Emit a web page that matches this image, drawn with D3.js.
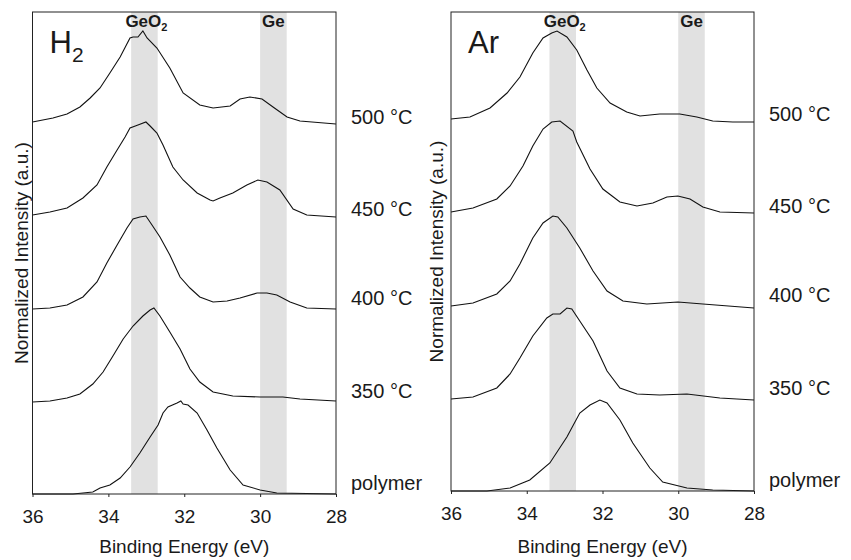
<!DOCTYPE html>
<html><head><meta charset="utf-8">
<script src="https://cdn.jsdelivr.net/npm/d3@7"></script>
<style>
body{margin:0;background:#fff}
text{font-family:"Liberation Sans",Arial,Helvetica,sans-serif;fill:#1a1a1a}
</style>
</head><body>
<svg id="chart" width="851" height="560"></svg>
<script>
// Ge 3d core-level spectra, stacked by anneal temperature
const energyTicks = [36, 34, 32, 30, 28];
const sampleLabels = ["polymer", "350 °C", "400 °C", "450 °C", "500 °C"];
const stackOffsets = [0, 92, 185, 279, 372];
const bandGeO2 = [33.4, 32.7];
const bandGe = [30.0, 29.3];

// [binding energy (eV), intensity above its own baseline (a.u.)]
const h2Polymer = [[36.0,0],[35.5,0],[34.93,0],[34.41,2],[34.22,6],[33.96,9],[33.69,16],[33.43,27],[33.17,41],[32.90,57],[32.69,69],[32.56,81],[32.43,87],[32.19,91],[32.09,93],[32.03,90],[31.90,89],[31.66,81],[31.40,64],[31.14,46],[30.79,24],[30.45,9],[30.00,4],[29.56,1],[28.0,0]];
const h2T350 = [[36.0,0],[35.54,1],[35.09,4],[34.75,8],[34.41,18],[34.14,30],[33.88,46],[33.61,63],[33.35,76],[33.09,86],[32.90,92],[32.80,94],[32.64,86],[32.38,70],[32.11,53],[31.85,33],[31.59,20],[31.24,10],[30.72,6],[30.00,5],[29.40,5],[28.95,3],[28.0,1]];
const h2T400 = [[36.0,0],[35.54,1],[35.09,4],[34.67,12],[34.30,27],[34.04,46],[33.77,64],[33.51,81],[33.35,90],[33.17,92],[33.01,93],[32.85,84],[32.64,72],[32.38,54],[32.11,32],[31.85,21],[31.59,12],[31.24,7],[30.87,8],[30.53,11],[30.08,16],[29.82,16],[29.56,14],[29.21,7],[28.77,1],[28.0,0]];
const h2T450 = [[36.0,0],[35.54,3],[35.09,7],[34.67,17],[34.30,30],[34.04,48],[33.77,65],[33.56,78],[33.43,87],[33.22,90],[33.01,93],[32.90,89],[32.72,82],[32.56,70],[32.30,48],[32.03,35],[31.66,22],[31.32,15],[31.24,14],[31.06,17],[30.72,22],[30.35,30],[30.06,35],[29.82,33],[29.48,25],[29.13,6],[28.77,0],[28.0,-2]];
const h2T500 = [[36.0,0],[35.46,4],[35.09,8],[34.75,15],[34.48,24],[34.22,34],[33.96,49],[33.69,65],[33.43,84],[33.35,85],[33.22,85],[33.09,91],[32.98,84],[32.72,74],[32.38,54],[32.03,29],[31.59,17],[31.24,14],[30.79,16],[30.53,23],[30.27,25],[29.95,23],[29.66,15],[29.29,5],[28.95,1],[28.0,-2]];

const arPolymer = [[36.0,0],[35.05,0],[34.44,3],[33.92,11],[33.39,28],[32.94,54],[32.60,78],[32.33,86],[32.07,91],[31.88,88],[31.54,71],[31.20,48],[30.75,23],[30.41,9],[29.77,3],[29.09,1],[28.0,0]];
const arT350 = [[36.0,0],[35.42,2],[34.79,11],[34.44,25],[34.18,41],[33.84,63],[33.47,81],[33.31,85],[33.12,85],[32.94,91],[32.81,90],[32.60,78],[32.25,58],[31.88,28],[31.54,11],[31.09,5],[30.49,4],[29.77,5],[28.90,1],[28.0,-1]];
const arT400 = [[36.0,0],[35.42,3],[34.79,12],[34.44,25],[34.18,42],[33.84,68],[33.57,83],[33.31,90],[33.18,89],[32.94,78],[32.60,58],[32.25,35],[31.88,15],[31.46,5],[30.83,2],[30.01,4],[29.35,2],[28.0,-2]];
const arT450 = [[36.0,0],[35.42,4],[34.79,13],[34.44,26],[34.10,46],[33.84,66],[33.57,83],[33.34,90],[33.12,91],[32.78,81],[32.68,70],[32.33,43],[31.99,23],[31.54,10],[31.09,6],[30.67,9],[30.30,15],[30.01,16],[29.69,13],[29.35,5],[28.90,0],[28.0,-1]];
const arT500 = [[36.0,0],[35.50,2],[34.97,11],[34.52,26],[34.18,42],[33.84,66],[33.57,81],[33.34,86],[33.20,88],[32.94,82],[32.68,69],[32.41,49],[32.15,31],[31.80,16],[31.36,7],[31.01,3],[30.75,4],[30.49,5],[29.96,5],[29.51,2],[29.09,-2],[28.56,-3],[28.0,-3]];

const svg = d3.select("#chart");
const FONT = "'Liberation Sans',Arial,Helvetica,sans-serif";

const panels = [
  {gas: "H", sub: "2", left: 32.5, right: 336, top: 12, bottom: 494, ymax: 482,
   spectra: [h2Polymer, h2T350, h2T400, h2T450, h2T500], yTitleX: 28},
  {gas: "Ar", sub: "", left: 451, right: 754, top: 12, bottom: 491, ymax: 479,
   spectra: [arPolymer, arT350, arT400, arT450, arT500], yTitleX: 443}
];

panels.forEach(p => {
  const x = d3.scaleLinear().domain([36, 28]).range([p.left, p.right]);
  const y = d3.scaleLinear().domain([0, p.ymax]).range([p.bottom, p.top]);
  const g = svg.append("g");

  // reference energy bands
  [bandGeO2, bandGe].forEach(b => {
    g.append("rect")
      .attr("x", x(b[0])).attr("width", x(b[1]) - x(b[0]))
      .attr("y", p.top).attr("height", p.bottom - p.top)
      .attr("fill", "#e1e1e1");
  });

  // band captions
  const cap = g.append("text")
    .attr("x", x((bandGeO2[0] + bandGeO2[1]) / 2) + 2).attr("y", p.top + 15)
    .attr("text-anchor", "middle").attr("font-weight", "bold").attr("font-size", 17);
  cap.append("tspan").text("GeO");
  cap.append("tspan").attr("font-size", 11).attr("dy", 4).text("2");
  g.append("text")
    .attr("x", x((bandGe[0] + bandGe[1]) / 2)).attr("y", p.top + 15)
    .attr("text-anchor", "middle").attr("font-weight", "bold").attr("font-size", 17)
    .text("Ge");

  // spectra
  const line = d3.line().x(d => x(d[0])).y(d => d[1]);
  p.spectra.forEach((s, i) => {
    g.append("path")
      .datum(s.map(d => [d[0], y(d[1] + stackOffsets[i])]))
      .attr("fill", "none").attr("stroke", "#111").attr("stroke-width", 1.1)
      .attr("d", line);
  });

  // frame
  g.append("rect")
    .attr("x", p.left).attr("y", p.top)
    .attr("width", p.right - p.left).attr("height", p.bottom - p.top)
    .attr("fill", "none").attr("stroke", "#222").attr("stroke-width", 1);

  // energy axis
  const ax = g.append("g").attr("transform", `translate(0,${p.bottom})`)
    .call(d3.axisBottom(x).tickValues(energyTicks).tickSize(3).tickPadding(13).tickFormat(d3.format("d")));
  ax.select(".domain").remove();
  ax.selectAll("line").attr("stroke", "#222");
  ax.selectAll("text").attr("font-size", 19).attr("fill", "#1a1a1a").attr("font-family", FONT);

  g.append("text")
    .attr("x", (p.left + p.right) / 2).attr("y", 553)
    .attr("text-anchor", "middle").attr("font-size", 19)
    .text("Binding Energy (eV)");

  g.append("text")
    .attr("transform", `translate(${p.yTitleX},${(p.top + p.bottom) / 2}) rotate(-90)`)
    .attr("text-anchor", "middle").attr("font-size", 19)
    .text("Normalized Intensity (a.u.)");

  // gas label
  const gl = g.append("text").attr("x", p.left + 17).attr("y", p.top + 41).attr("font-size", 31);
  gl.append("tspan").text(p.gas);
  if (p.sub) gl.append("tspan").attr("font-size", 21).attr("dy", 9).text(p.sub);

  // sample labels
  sampleLabels.forEach((lab, i) => {
    g.append("text")
      .attr("x", p.right + 15).attr("y", y(stackOffsets[i]) - 4 + (i === 4 ? 6 : 0) + (i === 3 ? 5 : 0))
      .attr("font-size", 20).text(lab);
  });
});
</script>
</body></html>
